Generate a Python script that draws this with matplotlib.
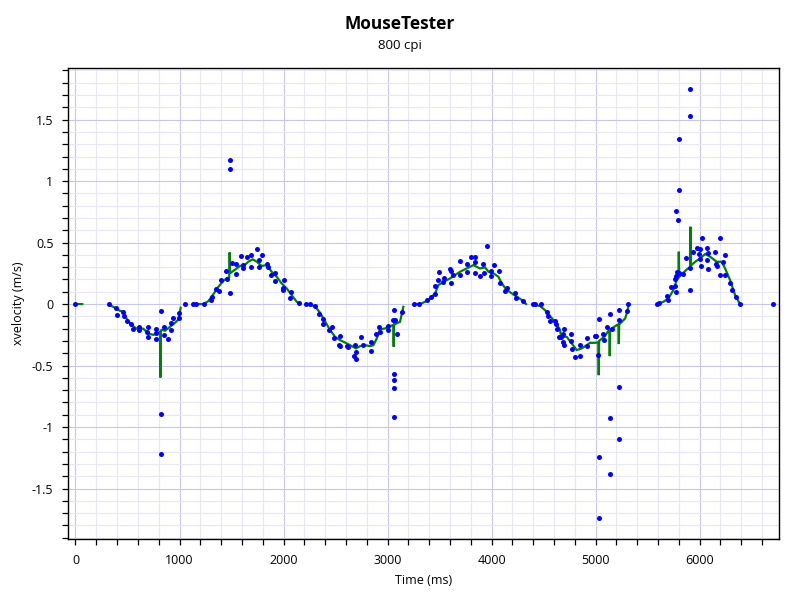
import matplotlib
matplotlib.use("Agg")
import matplotlib.pyplot as plt
import numpy as np
from matplotlib.ticker import MultipleLocator, FormatStrFormatter

plt.rcParams['font.family'] = ['Open Sans', 'DejaVu Sans']

# raw samples (time ms, x velocity m/s)
pt_time = [0, 322, 386, 396, 460, 466, 498, 534, 550, 614, 614, 690, 694, 700, 771, 777, 777,
           819, 822, 822, 848, 848, 889, 921, 921, 940, 998, 998, 1050, 1133, 1158, 1238, 1303,
           1312, 1348, 1380, 1402, 1450, 1454, 1482, 1482, 1482, 1508, 1540, 1543, 1588, 1614,
           1614, 1652, 1688, 1691, 1742, 1764, 1768, 1790, 1841, 1854, 1880, 1918, 1921, 1995,
           1998, 2001, 2063, 2072, 2152, 2216, 2255, 2303, 2338, 2377, 2383, 2440, 2463, 2486,
           2537, 2540, 2543, 2614, 2617, 2678, 2688, 2694, 2694, 2745, 2767, 2844, 2844, 2886,
           2921, 2931, 3001, 3004, 3053, 3059, 3059, 3059, 3059, 3059, 3072, 3094, 3136, 3255,
           3306, 3383, 3418, 3454, 3457, 3486, 3495, 3537, 3543, 3601, 3611, 3611, 3627, 3694,
           3697, 3764, 3767, 3800, 3844, 3844, 3844, 3889, 3918, 3928, 3954, 3995, 3998, 4021,
           4075, 4085, 4133, 4152, 4229, 4233, 4303, 4402, 4422, 4476, 4531, 4540, 4566, 4608,
           4617, 4633, 4652, 4668, 4684, 4690, 4694, 4697, 4761, 4764, 4774, 4806, 4848, 4848,
           4918, 4921, 4995, 5008, 5021, 5034, 5034, 5034, 5075, 5079, 5114, 5136, 5136, 5136,
           5159, 5223, 5223, 5223, 5223, 5303, 5312, 5594, 5610, 5687, 5694, 5723, 5762, 5762,
           5777, 5777, 5777, 5783, 5793, 5800, 5800, 5800, 5844, 5867, 5912, 5912, 5912, 5912,
           5934, 5976, 5995, 6002, 6008, 6011, 6021, 6075, 6075, 6079, 6079, 6149, 6156, 6165,
           6197, 6200, 6229, 6248, 6248, 6293, 6310, 6348, 6389, 6707]
pt_vel = [0, 0, -0.03, -0.087, -0.068, -0.10, -0.14, -0.163, -0.206, -0.19, -0.21, -0.23, -0.19,
          -0.27, -0.236, -0.20, -0.28, -0.057, -0.89, -1.22, -0.185, -0.25, -0.28, -0.21, -0.15,
          -0.11, -0.11, -0.07, 0, 0, 0, 0, 0.03, 0.06, 0.12, 0.11, 0.195, 0.266, 0.20, 0.09,
          1.17, 1.10, 0.336, 0.325, 0.244, 0.39, 0.315, 0.29, 0.38, 0.30, 0.40, 0.45, 0.36, 0.30,
          0.40, 0.33, 0.30, 0.233, 0.255, 0.185, 0.128, 0.114, 0.198, 0.05, 0.095, 0.005, 0, 0,
          -0.016, -0.08, -0.12, -0.163, -0.21, -0.187, -0.277, -0.334, -0.258, -0.34, -0.339,
          -0.35, -0.423, -0.334, -0.39, -0.445, -0.266, -0.336, -0.309, -0.385, -0.247, -0.185,
          -0.228, -0.176, -0.212, -0.13, -0.049, -0.57, -0.62, -0.68, -0.92, -0.13, -0.247,
          -0.068, 0, 0, 0.033, 0.06, 0.149, 0.081, 0.195, 0.26, 0.18, 0.209, 0.282, 0.271, 0.173,
          0.24, 0.236, 0.347, 0.263, 0.33, 0.385, 0.385, 0.339, 0.255, 0.228, 0.328, 0.25, 0.474,
          0.268, 0.228, 0.32, 0.266, 0.168, 0.108, 0.128, 0.092, 0.051, 0.024, 0, 0, 0, -0.068,
          -0.10, -0.14, -0.136, -0.16, -0.206, -0.27, -0.27, -0.244, -0.306, -0.20, -0.336,
          -0.298, -0.24, -0.363, -0.434, -0.426, -0.331, -0.277, -0.342, -0.258, -0.263, -0.415,
          -0.12, -1.24, -1.74, -0.244, -0.296, -0.187, -0.081, -0.925, -1.38, -0.20, -0.049,
          -0.13, -0.675, -1.10, -0.06, 0, 0, 0.008, 0.068, 0.03, 0.138, 0.144, 0.20, 0.095, 0.228,
          0.754, 0.258, 0.683, 0.25, 0.928, 1.343, 0.242, 0.372, 1.749, 1.532, 0.29, 0.111, 0.42,
          0.46, 0.41, 0.366, 0.447, 0.312, 0.537, 0.453, 0.355, 0.418, 0.285, 0.423, 0.325, 0.312,
          0.537, 0.236, 0.344, 0.396, 0.236, 0.168, 0.116, 0.055, 0, 0]

# smoothed velocity (nan = gap between strokes)
nan = np.nan
sm_time = [0, 65, nan,
           322, 380, 428, 460, 492, 540, 588, 652, 700, 748, 796, 812, 816, 820, 829, 861, 909,
           957, 989, 998, 1011, nan,
           1133, 1230, 1277, 1325, 1373, 1421, 1454, 1478, 1482, 1486, 1492, 1534, 1582, 1630,
           1662, 1704, 1742, 1790, 1838, 1886, 1934, 1982, 2030, 2078, 2127, 2160, nan,
           2216, 2255, 2303, 2351, 2399, 2447, 2495, 2543, 2608, 2656, 2697, 2736, 2784, 2832,
           2864, 2896, 2928, 2976, 3024, 3055, 3059, 3063, 3072, 3120, 3152, nan,
           3255, 3312, 3361, 3409, 3457, 3489, 3537, 3601, 3649, 3697, 3761, 3825, 3857, 3889,
           3938, 3970, 4018, 4066, 4098, 4146, 4194, 4243, 4291, 4332, nan,
           4402, 4466, 4514, 4563, 4611, 4659, 4668, 4722, 4771, 4819, 4867, 4915, 4947, 4995,
           5026, 5030, 5034, 5043, 5091, 5123, 5132, 5136, 5140, 5156, 5204, 5219, 5223, 5227,
           5236, 5284, 5309, 5312, nan,
           5594, 5652, 5700, 5748, 5780, 5796, 5800, 5804, 5806, 5844, 5877, 5908, 5912, 5916,
           5921, 5957, 6005, 6053, 6101, 6165, 6213, 6245, 6293, 6341, 6389]
sm_vel = [0, 0, nan,
          -0.005, -0.03, -0.055, -0.06, -0.12, -0.17, -0.2, -0.2, -0.24, -0.25, -0.233, -0.23,
          -0.597, -0.215, -0.21, -0.217, -0.185, -0.152, -0.125, -0.09, -0.03, nan,
          0, 0, 0.024, 0.08, 0.14, 0.187, 0.21, 0.22, 0.42, 0.25, 0.255, 0.28, 0.31, 0.32, 0.345,
          0.364, 0.345, 0.31, 0.317, 0.263, 0.222, 0.168, 0.128, 0.073, 0.019, 0, nan,
          0, -0.005, -0.02, -0.07, -0.14, -0.21, -0.266, -0.293, -0.32, -0.342, -0.36, -0.342,
          -0.334, -0.342, -0.334, -0.28, -0.206, -0.198, -0.179, -0.17, -0.347, -0.165, -0.163,
          -0.144, -0.022, nan,
          0, 0, 0.019, 0.046, 0.087, 0.155, 0.18, 0.209, 0.236, 0.263, 0.29, 0.317, 0.304, 0.29,
          0.298, 0.263, 0.25, 0.222, 0.168, 0.114, 0.087, 0.06, 0.033, 0, nan,
          -0.005, -0.016, -0.049, -0.1, -0.144, -0.21, -0.266, -0.266, -0.32, -0.374, -0.36,
          -0.334, -0.315, -0.315, -0.31, -0.578, -0.30, -0.293, -0.26, -0.217, -0.21, -0.423,
          -0.205, -0.198, -0.171, -0.165, -0.325, -0.16, -0.157, -0.117, -0.049, -0.03, nan,
          0, 0.019, 0.046, 0.114, 0.195, 0.21, 0.426, 0.22, 0.222, 0.255, 0.282, 0.30, 0.629,
          0.31, 0.317, 0.344, 0.372, 0.407, 0.385, 0.344, 0.344, 0.29, 0.195, 0.073, 0]

fig = plt.figure(figsize=(8, 6), dpi=100)
ax = fig.add_axes([0.085, 0.1017, 0.889, 0.785])

ax.plot(sm_time, sm_vel, color='#008000', lw=1.6, zorder=3, solid_joinstyle='miter')
ax.scatter(pt_time, pt_vel, s=13, color='#0000ff', linewidths=0, zorder=4)

ax.set_xlim(-72, 6765)
ax.set_ylim(-1.91, 1.92)

ax.xaxis.set_major_locator(MultipleLocator(1000))
ax.xaxis.set_minor_locator(MultipleLocator(200))
ax.yaxis.set_major_locator(MultipleLocator(0.5))
ax.yaxis.set_minor_locator(MultipleLocator(0.1))
ax.yaxis.set_major_formatter(FormatStrFormatter('%g'))

ax.grid(which='major', color='#c8c8e4', lw=0.8)
ax.grid(which='minor', color='#e6e6f4', lw=0.8)
ax.set_axisbelow(True)

ax.tick_params(which='both', direction='out', length=4.5, width=0.9, colors='black',
               labelsize=9, top=False, right=False)
ax.tick_params(axis='x', pad=6)
ax.tick_params(axis='y', pad=6)
for sp in ax.spines.values():
    sp.set_linewidth(1.0)
    sp.set_color('black')

ax.set_xlabel('Time (ms)', fontsize=9, labelpad=5)
ax.set_ylabel('xvelocity (m/s)', fontsize=9, labelpad=5)

fig.text(0.5, 0.96, 'MouseTester', ha='center', va='center', fontsize=12.5, fontweight='bold')
fig.text(0.5, 0.924, '800 cpi', ha='center', va='center', fontsize=9.5)

fig.savefig('out.png', dpi=100)
